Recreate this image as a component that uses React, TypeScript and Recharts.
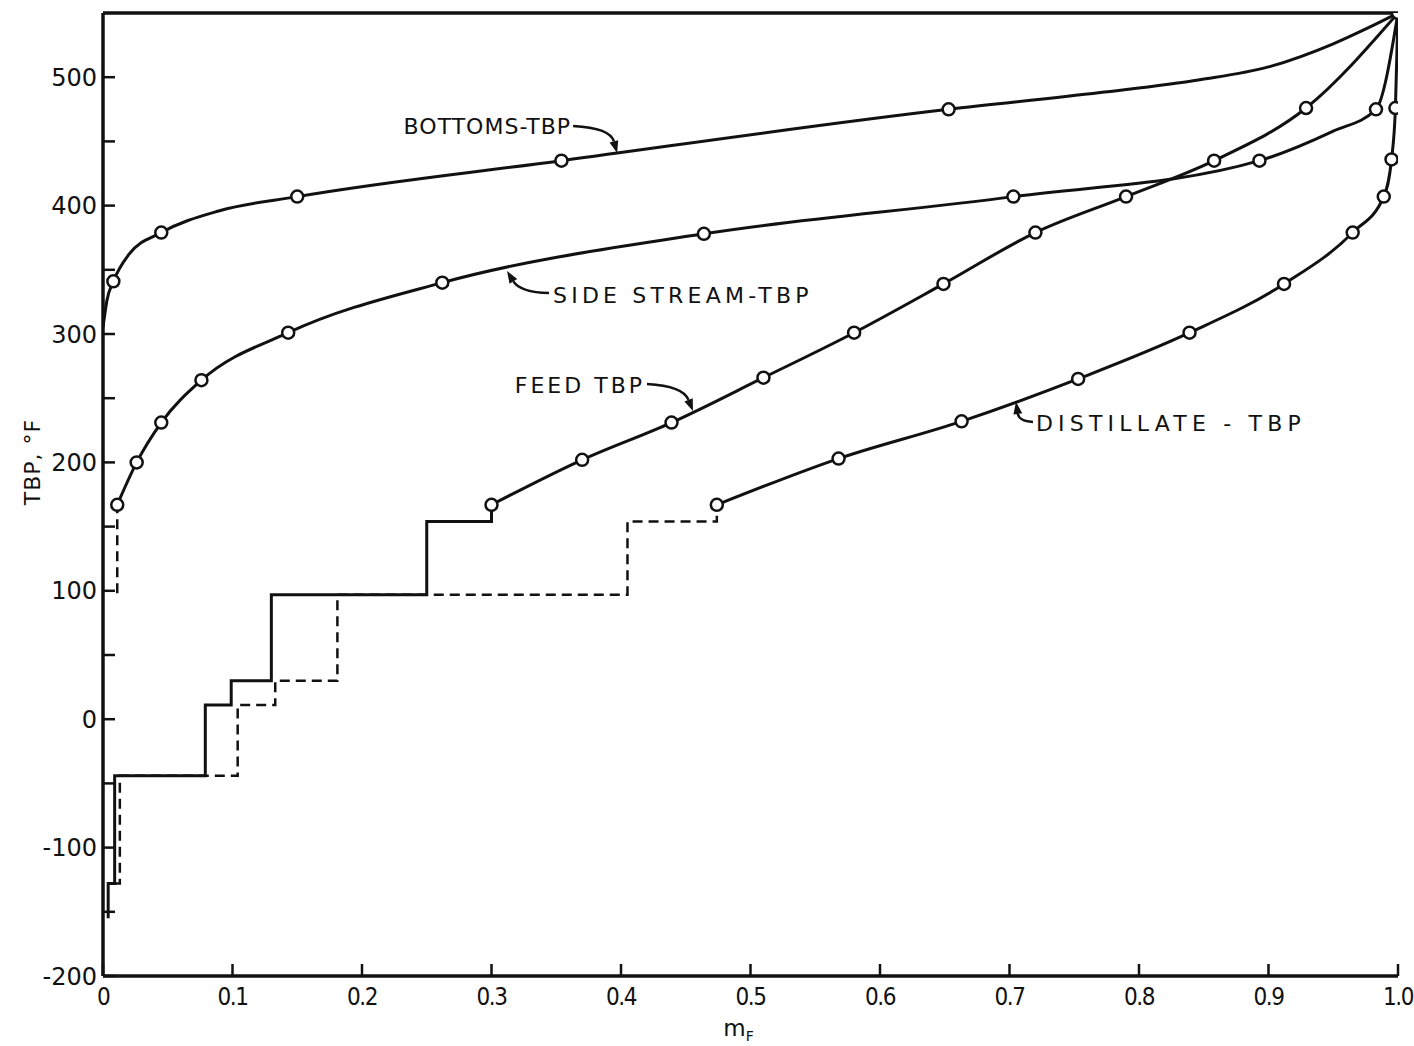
import React from 'react';
import {
  ComposedChart,
  Line,
  Scatter,
  XAxis,
  YAxis,
  ReferenceDot,
  ReferenceLine,
} from 'recharts';

type Pt = [number, number];

const INK = '#111';
const FONT = '"DejaVu Sans", "Liberation Sans", Arial, sans-serif';

// axis ticks
const xTicks = [0, 0.1, 0.2, 0.3, 0.4, 0.5, 0.6, 0.7, 0.8, 0.9, 1.0];
const yTicks = [-200, -150, -100, -50, 0, 50, 100, 150, 200, 250, 300, 350, 400, 450, 500];

// smooth TBP curves (mF, TBP °F)
const bottomsCurve: Pt[] = [
  [0, 305], [0.003, 326], [0.008, 341], [0.02, 362], [0.045, 379], [0.09, 396],
  [0.15, 407], [0.354, 435], [0.653, 475], [0.77, 488], [0.847, 498], [0.9, 508],
  [0.95, 526], [0.976, 538], [1.0, 550],
];
const sideCurve: Pt[] = [
  [0.011, 167], [0.026, 200], [0.045, 231], [0.076, 264], [0.143, 301], [0.262, 340],
  [0.464, 378], [0.703, 407], [0.893, 435], [0.95, 458], [0.983, 475], [1.0, 550],
];
const feedCurve: Pt[] = [
  [0.3, 167], [0.37, 202], [0.439, 231], [0.51, 266], [0.58, 301], [0.649, 339],
  [0.72, 379], [0.79, 407], [0.858, 435], [0.929, 476], [1.0, 550],
];
const distCurve: Pt[] = [
  [0.474, 167], [0.568, 203], [0.663, 232], [0.753, 265], [0.839, 301], [0.912, 339],
  [0.965, 379], [0.989, 407], [0.995, 436], [0.998, 476], [1.0, 550],
];

// plotted data points (circles)
const bottomsPoints: Pt[] = [[0.008, 341], [0.045, 379], [0.15, 407], [0.354, 435], [0.653, 475]];
const sidePoints: Pt[] = [
  [0.011, 167], [0.026, 200], [0.045, 231], [0.076, 264], [0.143, 301], [0.262, 340],
  [0.464, 378], [0.703, 407], [0.893, 435], [0.983, 475],
];
const feedPoints: Pt[] = [
  [0.3, 167], [0.37, 202], [0.439, 231], [0.51, 266], [0.58, 301], [0.649, 339],
  [0.72, 379], [0.79, 407], [0.858, 435], [0.929, 476],
];
const distPoints: Pt[] = [
  [0.474, 167], [0.568, 203], [0.663, 232], [0.753, 265], [0.839, 301], [0.912, 339],
  [0.965, 379], [0.989, 407], [0.995, 436], [0.998, 476],
];
const endPoint: Pt[] = [[1.0, 550]];

// light-end pseudo components (step lines)
const feedSteps: Pt[] = [
  [0.004, -155], [0.004, -128], [0.009, -128], [0.009, -44], [0.079, -44], [0.079, 11],
  [0.099, 11], [0.099, 30], [0.13, 30], [0.13, 97], [0.25, 97], [0.25, 154],
  [0.3, 154], [0.3, 167],
];
const distSteps: Pt[] = [
  [0.009, -128], [0.013, -128], [0.013, -44], [0.104, -44], [0.104, 11], [0.133, 11],
  [0.133, 30], [0.181, 30], [0.181, 97], [0.405, 97], [0.405, 154], [0.474, 154],
  [0.474, 167],
];
const sideSteps: Pt[] = [[0.011, 98], [0.011, 167]];

// curve labels
const calloutText = ['BOTTOMS-TBP', 'SIDE STREAM-TBP', 'FEED TBP', 'DISTILLATE - TBP'];
const calloutAt: Pt[] = [[0.397, 441], [0.312, 349], [0.4556, 240], [0.705, 247]];

// pixel offsets of text and arrow relative to the arrow tip
const calloutLayout = [
  { tx: -46, ty: -19, anchor: 'end', start: [-44, -27], ctrl: [-7, -25], ls: 1 },
  { tx: 46, ty: 32, anchor: 'start', start: [42, 22], ctrl: [13, 21], ls: 4.2 },
  { tx: -48, ty: -18, anchor: 'end', start: [-46, -27], ctrl: [-10, -25], ls: 3 },
  { tx: 20, ty: 29, anchor: 'start', start: [17, 20], ctrl: [3, 19], ls: 5.2 },
];

const toXY = (arr: Pt[]) => arr.map(([x, y]) => ({ x, y }));

const LeftTick = (props: any) => {
  const { x, y, payload } = props;
  const v = payload.value;
  return (
    <g>
      <line x1={x} y1={y} x2={x + 12} y2={y} stroke={INK} strokeWidth={2.5} />
      {v % 100 === 0 && (
        <text x={x - 6} y={y} dy="0.36em" textAnchor="end" fontSize={24} fontFamily={FONT} fill={INK}>
          {v}
        </text>
      )}
    </g>
  );
};

const RightTick = (props: any) => {
  const { x, y } = props;
  return <line x1={x} y1={y} x2={x - 12} y2={y} stroke={INK} strokeWidth={2.5} />;
};

const BottomTick = (props: any) => {
  const { x, y, payload } = props;
  const v = payload.value;
  return (
    <g>
      <line x1={x} y1={y} x2={x} y2={y - 12} stroke={INK} strokeWidth={2.5} />
      <text
        x={x}
        y={y + 29}
        textAnchor="middle"
        fontSize={24}
        fontFamily={FONT}
        fontStretch="condensed"
        letterSpacing={-1.5}
        fill={INK}
      >
        {v === 0 ? '0' : v.toFixed(1)}
      </text>
    </g>
  );
};

const Callout = ({ cx, cy, text, layout }: any) => {
  const [sx, sy] = layout.start;
  const [qx, qy] = layout.ctrl;
  const len = Math.hypot(qx, qy) || 1;
  const ux = -qx / len;
  const uy = -qy / len;
  const L = 12;
  const W = 4.5;
  const bx = cx - ux * L;
  const by = cy - uy * L;
  const head = `${cx},${cy} ${bx - uy * W},${by + ux * W} ${bx + uy * W},${by - ux * W}`;
  return (
    <g>
      <path
        d={`M${cx + sx},${cy + sy} Q${cx + qx},${cy + qy} ${bx},${by}`}
        fill="none"
        stroke={INK}
        strokeWidth={2.5}
      />
      <polygon points={head} fill={INK} />
      <text
        x={cx + layout.tx}
        y={cy + layout.ty}
        textAnchor={layout.anchor}
        fontSize={22}
        letterSpacing={layout.ls}
        fontFamily={FONT}
        fill={INK}
      >
        {text}
      </text>
    </g>
  );
};

const Marker = (props: any) => (
  <circle cx={props.cx} cy={props.cy} r={6} fill="#fff" stroke={INK} strokeWidth={2.5} />
);

const App: React.FC = () => {
  const curves = [bottomsCurve, sideCurve, feedCurve, distCurve];
  const points = [...bottomsPoints, ...sidePoints, ...feedPoints, ...distPoints, ...endPoint];

  return (
    <div style={{ position: 'absolute', left: 0, top: 0, background: '#fff' }}>
      <ComposedChart width={1414} height={1046} margin={{ top: 13, right: 16, bottom: 0, left: 0 }}>
        <XAxis
          xAxisId="bottom"
          type="number"
          dataKey="x"
          domain={[0, 1]}
          ticks={xTicks}
          allowDataOverflow
          height={70}
          tickSize={0}
          tickMargin={0}
          tickLine={false}
          axisLine={{ stroke: INK, strokeWidth: 3.5 }}
          tick={<BottomTick />}
          label={{
            content: (p: any) => {
              const vb = p.viewBox || { x: 103, y: 976, width: 1295 };
              return (
                <text x={vb.x + vb.width / 2 - 12} y={vb.y + 60} textAnchor="middle" fontFamily={FONT} fill={INK} fontSize={23}>
                  m
                  <tspan fontSize={14} dy={5}>F</tspan>
                </text>
              );
            },
          }}
        />
        <YAxis
          yAxisId="left"
          type="number"
          dataKey="y"
          domain={[-200, 550]}
          ticks={yTicks}
          allowDataOverflow
          width={103}
          tickSize={0}
          tickMargin={0}
          tickLine={false}
          axisLine={{ stroke: INK, strokeWidth: 3.5 }}
          tick={<LeftTick />}
          label={{
            content: () => (
              <text
                x={32}
                y={462}
                transform="rotate(-90 32 462)"
                textAnchor="middle"
                dy="0.36em"
                fontSize={22}
                letterSpacing={1}
                fontFamily={FONT}
                fill={INK}
              >
                TBP, °F
              </text>
            ),
          }}
        />
        <YAxis
          yAxisId="right"
          orientation="right"
          type="number"
          domain={[-200, 550]}
          ticks={yTicks}
          allowDataOverflow
          width={0}
          tickSize={0}
          tickMargin={0}
          tickLine={false}
          axisLine={{ stroke: INK, strokeWidth: 3.5 }}
          tick={<RightTick />}
        />
        <ReferenceLine
          xAxisId="bottom"
          yAxisId="left"
          y={550}
          stroke={INK}
          strokeWidth={3.5}
          ifOverflow="visible"
        />

        {curves.map((c, i) => (
          <Line
            key={`curve-${i}`}
            xAxisId="bottom"
            yAxisId="left"
            data={toXY(c)}
            dataKey="y"
            type="monotone"
            stroke={INK}
            strokeWidth={3}
            dot={false}
            activeDot={false}
            isAnimationActive={false}
          />
        ))}
        <Line
          xAxisId="bottom"
          yAxisId="left"
          data={toXY(feedSteps)}
          dataKey="y"
          type="linear"
          stroke={INK}
          strokeWidth={3}
          dot={false}
          activeDot={false}
          isAnimationActive={false}
        />
        <Line
          xAxisId="bottom"
          yAxisId="left"
          data={toXY(distSteps)}
          dataKey="y"
          type="linear"
          stroke={INK}
          strokeWidth={2.5}
          strokeDasharray="10 6"
          dot={false}
          activeDot={false}
          isAnimationActive={false}
        />
        <Line
          xAxisId="bottom"
          yAxisId="left"
          data={toXY(sideSteps)}
          dataKey="y"
          type="linear"
          stroke={INK}
          strokeWidth={2.5}
          strokeDasharray="10 6"
          dot={false}
          activeDot={false}
          isAnimationActive={false}
        />
        <Scatter
          xAxisId="bottom"
          yAxisId="left"
          data={toXY(points)}
          dataKey="y"
          shape={<Marker />}
          isAnimationActive={false}
        />
        {calloutAt.map(([x, y], i) => (
          <ReferenceDot
            key={`callout-${i}`}
            xAxisId="bottom"
            yAxisId="left"
            x={x}
            y={y}
            r={0}
            ifOverflow="visible"
            shape={(p: any) => <Callout cx={p.cx} cy={p.cy} text={calloutText[i]} layout={calloutLayout[i]} />}
          />
        ))}
      </ComposedChart>
    </div>
  );
};

export default App;
